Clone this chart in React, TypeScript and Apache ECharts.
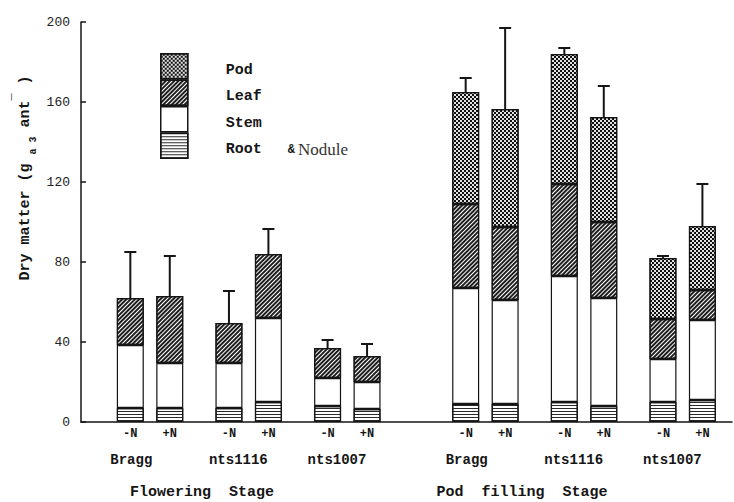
import React, { useEffect, useRef } from 'react';
import * as echarts from 'echarts';

// ---- data (dry matter, g per plant) ----
const treatments = ['-N', '+N', '-N', '+N', '-N', '+N', '-N', '+N', '-N', '+N', '-N', '+N'];
const varieties = ['Bragg', 'nts1116', 'nts1007', 'Bragg', 'nts1116', 'nts1007'];
const stages = ['Flowering  Stage', 'Pod  filling  Stage'];
const rootDM = [7, 7, 7, 10, 8, 6.5, 9, 9, 10, 8, 10, 11];
const stemDM = [31.5, 22.5, 22.5, 42, 14, 13.5, 58, 52, 63, 54, 21.5, 40];
const leafDM = [23.5, 33.5, 20, 32, 15, 13, 42, 36.5, 46, 38, 20, 15];
const podDM: (number | null)[] = [null, null, null, null, null, null, 56, 59, 65, 52.5, 30.5, 32];
const errUp = [23, 20, 16, 12.5, 4, 6, 7, 40.5, 3, 15.5, 1, 21];
const yMin = 0;
const yMax = 200;
const yStep = 40;

// ---- layout ----
const N_SLOTS = 33;
const barSlots = [2, 4, 7, 9, 12, 14, 19, 21, 24, 26, 29, 31];
const MONO = '"Liberation Mono", "DejaVu Sans Mono", monospace';
const SERIF = '"Liberation Serif", "DejaVu Serif", serif';
const INK = '#151515';

const toSlots = (arr: (number | null)[]) => {
  const out: (number | string)[] = new Array(N_SLOTS).fill('-');
  barSlots.forEach((s, i) => {
    const v = arr[i];
    out[s] = v == null ? '-' : v;
  });
  return out;
};

const slotLabels = (() => {
  const out: string[] = new Array(N_SLOTS).fill('');
  barSlots.forEach((s, i) => (out[s] = treatments[i]));
  return out;
})();

const totals = rootDM.map((r, i) => r + stemDM[i] + leafDM[i] + (podDM[i] ?? 0));

export default function App() {
  const ref = useRef<HTMLDivElement>(null);
  useEffect(() => {
    if (!ref.current) return;
    const chart = echarts.init(ref.current, undefined, { renderer: 'svg' });
    const border = { borderColor: INK, borderWidth: 1.2 };
    const base = { type: 'bar', stack: 'dm', barWidth: 27 };
    const option: any = {
      animation: false,
      backgroundColor: '#fff',
      grid: { left: 81, right: 2, top: 22, bottom: 80, containLabel: false },
      legend: {
        data: ['Pod', 'Leaf', 'Stem', 'Root'],
        orient: 'vertical',
        left: 160,
        top: 53,
        padding: 0,
        itemWidth: 27,
        itemHeight: 25,
        itemGap: 0,
        icon: 'rect',
        selectedMode: false,
        itemStyle: { borderColor: INK, borderWidth: 1.5 },
        formatter: (name: string) =>
          name === 'Root' ? '{a|Root}{amp|&}{n|Nodule}' : `{a|${name}}`,
        textStyle: {
          rich: {
            a: { fontFamily: MONO, fontSize: 15, fontWeight: 'bold', color: INK, lineHeight: 16, padding: [8, 0, 0, 33] },
            amp: { fontFamily: MONO, fontSize: 12, fontWeight: 'bold', color: INK, lineHeight: 16, padding: [8, 0, 0, 26] },
            n: { fontFamily: SERIF, fontSize: 17, color: '#333', lineHeight: 16, padding: [8, 0, 0, 3] },
          },
        },
      },
      xAxis: {
        type: 'category',
        data: slotLabels,
        axisTick: { show: false },
        axisLine: { lineStyle: { color: INK, width: 1.5 } },
        axisLabel: { interval: 0, margin: 6, fontFamily: MONO, fontSize: 12, fontWeight: 'bold', color: INK },
      },
      yAxis: {
        type: 'value',
        min: yMin,
        max: yMax,
        interval: yStep,
        splitLine: { show: false },
        axisLine: { show: true, lineStyle: { color: INK, width: 1.5 } },
        axisTick: { show: true, inside: true, length: 5, lineStyle: { color: INK, width: 1.5 } },
        axisLabel: { margin: 11, fontFamily: MONO, fontSize: 13, color: '#222' },
      },
      series: [
        {
          ...base,
          name: 'Root',
          data: toSlots(rootDM),
          itemStyle: {
            ...border,
            color: '#fff',
            decal: { symbol: 'rect', symbolSize: 1, dashArrayX: [1, 0], dashArrayY: [1, 1.2], rotation: 0, color: '#2a2a2a' },
          },
        },
        {
          ...base,
          name: 'Stem',
          data: toSlots(stemDM),
          itemStyle: { ...border, color: '#fff' },
        },
        {
          ...base,
          name: 'Leaf',
          data: toSlots(leafDM),
          itemStyle: {
            ...border,
            color: '#fff',
            decal: { symbol: 'rect', symbolSize: 1, dashArrayX: [1, 0], dashArrayY: [1.2, 1], rotation: -Math.PI / 4, color: '#1e1e1e' },
          },
        },
        {
          ...base,
          name: 'Pod',
          data: toSlots(podDM),
          itemStyle: {
            ...border,
            color: '#e2e2e2',
            decal: {
              symbol: 'rect',
              symbolSize: 1,
              dashArrayX: [[2, 2], [0, 2, 2, 0]],
              dashArrayY: [2, 0],
              rotation: 0,
              color: '#111',
            },
          },
        },
        {
          type: 'custom',
          name: 'err',
          z: 10,
          data: barSlots.map((s, i) => [s, totals[i], totals[i] + errUp[i]]),
          encode: { x: 0, y: [1, 2] },
          renderItem: (params: any, api: any) => {
            const x = api.value(0);
            const lo = api.coord([x, api.value(1)]);
            const hi = api.coord([x, api.value(2)]);
            const st = { stroke: INK, lineWidth: 2 };
            return {
              type: 'group',
              children: [
                { type: 'line', shape: { x1: lo[0], y1: lo[1], x2: hi[0], y2: hi[1] }, style: st },
                { type: 'line', shape: { x1: hi[0] - 6, y1: hi[1], x2: hi[0] + 6, y2: hi[1] }, style: st },
              ],
            };
          },
        },
      ],
      graphic: [
        {
          type: 'text',
          x: 25,
          y: 178,
          rotation: Math.PI / 2,
          style: {
            text: 'Dry matter (g {s|a 3} ant{p|¯} )',
            fontFamily: MONO,
            fontSize: 15,
            fontWeight: 'bold',
            fill: INK,
            align: 'center',
            verticalAlign: 'middle',
            textAlign: 'center',
            textVerticalAlign: 'middle',
            rich: {
              s: { fontFamily: MONO, fontSize: 10, fontWeight: 'bold', fill: INK, verticalAlign: 'bottom', lineHeight: 26 },
              p: { fontFamily: MONO, fontSize: 12, fontWeight: 'bold', fill: INK, verticalAlign: 'top', lineHeight: 26 },
            },
          },
        },
      ],
    };
    chart.setOption(option);

    // variety and stage labels placed from the axis' own pixel positions
    const extra: any[] = [];
    varieties.forEach((v, p) => {
      const pt = chart.convertToPixel({ gridIndex: 0 }, [barSlots[2 * p], 0]) as number[];
      extra.push({
        type: 'text',
        x: pt[0] - 20,
        y: 460,
        style: {
          text: v,
          fontFamily: MONO,
          fontSize: 14,
          fontWeight: 'bold',
          fill: INK,
          align: 'left',
          verticalAlign: 'middle',
          textAlign: 'left',
          textVerticalAlign: 'middle',
        },
      });
    });
    const stageX = [202, 522];
    stages.forEach((s, i) => {
      extra.push({
        type: 'text',
        x: stageX[i],
        y: 492,
        style: {
          text: s,
          fontFamily: MONO,
          fontSize: 15,
          fontWeight: 'bold',
          fill: INK,
          align: 'center',
          verticalAlign: 'middle',
          textAlign: 'center',
          textVerticalAlign: 'middle',
        },
      });
    });
    chart.setOption({ graphic: [...option.graphic, ...extra] });

    return () => chart.dispose();
  }, []);
  return (
    <div
      ref={ref}
      style={{ position: 'fixed', left: 0, top: 0, width: 734, height: 502, background: '#fff' }}
    />
  );
}
